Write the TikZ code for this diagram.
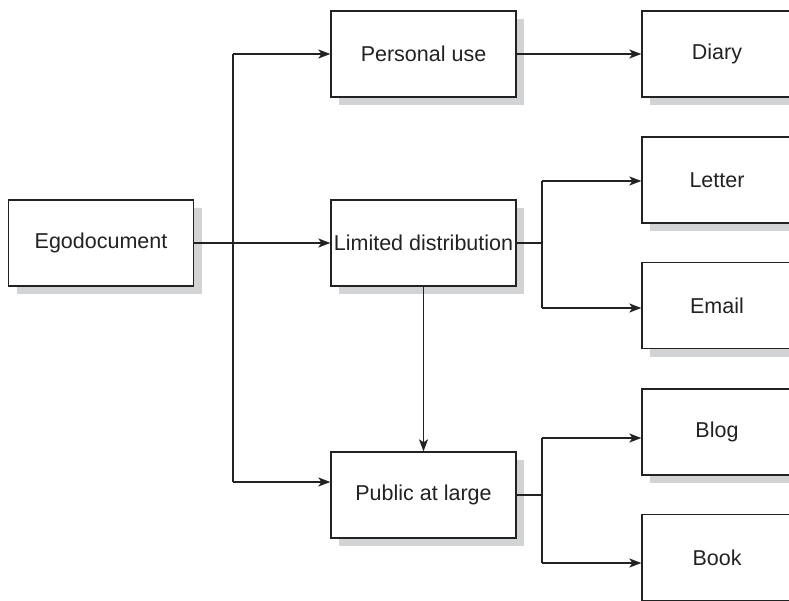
\documentclass[tikz,border=0pt]{standalone}
\usepackage{fontspec}
\setmainfont{Liberation Sans}
\usetikzlibrary{arrows.meta,shadows}
\definecolor{shadowgray}{HTML}{D2D3D5}
\definecolor{inkgray}{HTML}{222222}
\begin{document}
\begin{tikzpicture}[x=1pt,y=-1pt,
  box/.style={draw=inkgray, line width=1.3pt, fill=white, minimum width=185pt, minimum height=86pt,
    inner sep=0pt, text=inkgray, font=\fontsize{21.5}{25}\selectfont,
    general shadow={fill=shadowgray, shadow xshift=8pt, shadow yshift=-8pt}},
  rbox/.style={box, minimum width=150pt},
  conn/.style={draw=inkgray, line width=1.3pt},
  arr/.style={conn, -{Stealth[length=12pt,width=9pt,inset=3pt]}}]
\useasboundingbox (0,0) rectangle (789,601);
\clip (0,0) rectangle (789,601);
\node[box] (ego) at (101,243) {Egodocument};
\node[box] (pers) at (423.5,54) {Personal use};
\node[box] (lim) at (423.5,243) {Limited distribution};
\node[box] (pub) at (423.5,495) {Public at large};
\node[rbox] (diary) at (717,54) {Diary};
\node[rbox] (letter) at (717,180) {Letter};
\node[rbox] (email) at (717,305.5) {Email};
\node[rbox] (blog) at (717,432) {Blog};
\node[rbox] (book) at (717,557.5) {Book};
\coordinate (b0) at (233,243);
\coordinate (b0t) at (233,54);
\coordinate (b0b) at (233,482);
\coordinate (b1) at (542,243);
\coordinate (b1t) at (542,181);
\coordinate (b1b) at (542,308);
\coordinate (b2) at (542,495);
\coordinate (b2t) at (542,438);
\coordinate (b2b) at (542,563);
% Egodocument branches
\draw[conn] (ego.east) -- (b0);
\draw[conn] (b0t) -- (b0b);
\draw[arr] (b0t) -- (b0t -| pers.west);
\draw[arr] (b0) -- (lim.west);
\draw[arr] (b0b) -- (b0b -| pub.west);
% Personal use -> Diary
\draw[arr] (pers.east) -- (diary.west);
% Limited distribution branches
\draw[conn] (lim.east) -- (b1);
\draw[conn] (b1t) -- (b1b);
\draw[arr] (b1t) -- (b1t -| letter.west);
\draw[arr] (b1b) -- (b1b -| email.west);
\draw[arr] (lim.south) -- (pub.north);
% Public at large branches
\draw[conn] (pub.east) -- (b2);
\draw[conn] (b2t) -- (b2b);
\draw[arr] (b2t) -- (b2t -| blog.west);
\draw[arr] (b2b) -- (b2b -| book.west);
\end{tikzpicture}
\end{document}
